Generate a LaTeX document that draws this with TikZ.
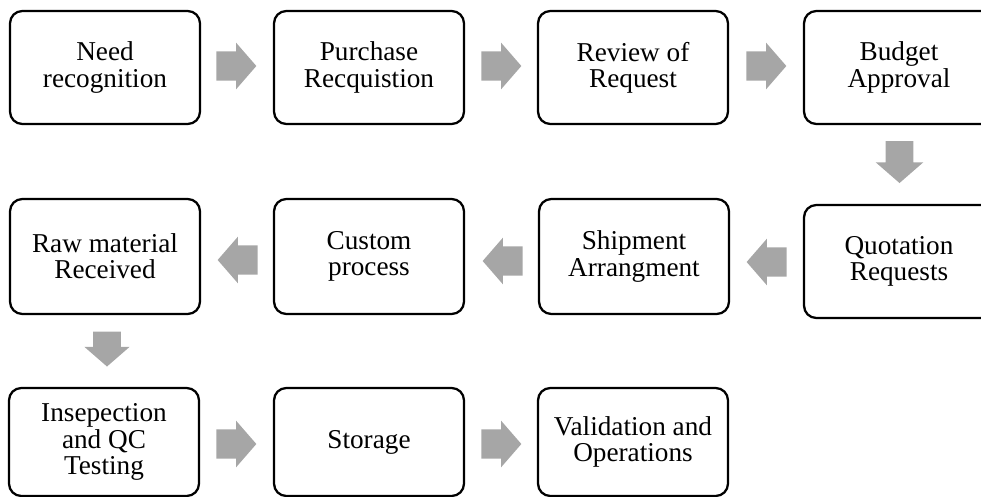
\documentclass[tikz,border=0pt]{standalone}
\usepackage{fontspec}
\setmainfont{Liberation Serif}
\usetikzlibrary{shapes.arrows}
\definecolor{flowgray}{RGB}{166,166,166}
\begin{document}
\begin{tikzpicture}[x=0.02cm,y=-0.02cm,
  stage/.style={draw,line width=1.3pt,rounded corners=7pt,align=center,
    minimum width=3.8cm,minimum height=2.26cm,inner sep=0pt,
    font=\fontsize{15.5pt}{15pt}\selectfont},
  flow/.style={single arrow,fill=flowgray,draw=none,inner xsep=0pt,inner ysep=0.285cm,
    minimum height=0.8cm,single arrow head extend=0.175cm,
    single arrow tip angle=98,single arrow head indent=0pt},
  flowdown/.style={flow,inner xsep=0.27cm,inner ysep=0pt,shape border rotate=270}]
\useasboundingbox (0,0) rectangle (981,497);

% first row
\node[stage] (need) at (105,67.5) {Need\\recognition};
\node[stage] (purchase) at (369,67.5) {Purchase\\Recquistion};
\node[stage] (review) at (633,67.5) {Review of\\Request};
\node[stage] (budget) at (899,67.5) {Budget\\Approval};
\node[flow] (a1) at (230,66) {};
\node[flow] (a2) at (495,66) {};
\node[flow] (a3) at (760,66) {};
\node[flowdown,minimum height=0.84cm,single arrow head extend=0.2cm] (a4) at (899.5,156) {};

% second row
\node[stage,minimum height=2.3cm] (raw) at (105,256.5) {Raw material\\Received};
\node[stage,minimum height=2.3cm] (custom) at (369,256.5) {Custom\\process};
\node[stage,minimum height=2.3cm] (shipment) at (634,256.5) {Shipment\\Arrangment};
\node[stage] (quotation) at (899,261.5) {Quotation\\Requests};
\node[flow,shape border rotate=180] (a5) at (773,262) {};
\node[flow,shape border rotate=180] (a6) at (509,261) {};
\node[flow,shape border rotate=180] (a7) at (244,260) {};
\node[flowdown,minimum height=0.7cm,shape border rotate=276] (a8) at (107,343) {};

% third row
\node[stage,minimum height=2.16cm] (inspect) at (104,442) {Insepection\\and QC\\Testing};
\node[stage,minimum height=2.16cm] (storage) at (369,442) {Storage};
\node[stage,minimum height=2.16cm] (valid) at (633,442) {Validation and\\Operations};
\node[flow] (a9) at (230,444) {};
\node[flow] (a10) at (495,444) {};
\end{tikzpicture}
\end{document}
